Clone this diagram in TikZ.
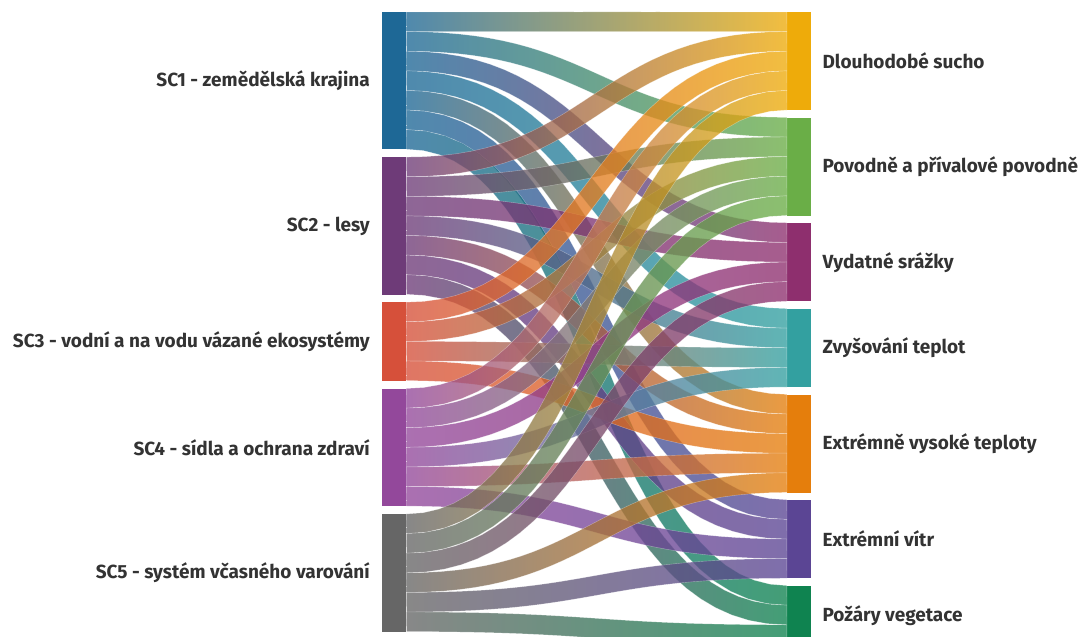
\documentclass[tikz,border=0pt]{standalone}
\usepackage{fontspec}
\setmainfont{Fira Sans}
\usepackage{tikz}
\usepackage{xcolor}
\usetikzlibrary{
    calc,
    positioning
}
\definecolor{csca}{HTML}{1E6896}
\definecolor{cscb}{HTML}{6E3B78}
\definecolor{cscc}{HTML}{D6503A}
\definecolor{cscd}{HTML}{93489B}
\definecolor{csce}{HTML}{666666}
\definecolor{csucho}{HTML}{EEAB0A}
\definecolor{cpovod}{HTML}{6AAE47}
\definecolor{csrazky}{HTML}{8E2F6E}
\definecolor{cteplo}{HTML}{33A0A0}
\definecolor{cextr}{HTML}{E57E0C}
\definecolor{cvitr}{HTML}{5B4594}
\definecolor{cpozar}{HTML}{0F8350}
\definecolor{ctext}{HTML}{333333}
\newcommand{\unitw}{19.6}
\tikzset{
    flowbar/.style={inner sep=0pt, draw=none, minimum width=24pt, minimum height={#1*19.6pt}},
    srclabel/.style={inner sep=0pt, text=ctext, font=\bfseries\fontsize{19}{22}\selectfont},
    tgtlabel/.style={inner sep=0pt, text=ctext, font=\bfseries\fontsize{19}{22}\selectfont},
    flowband/.style={fill opacity=0.78, draw=white, draw opacity=0.4, line width=0.4pt},
    declare function={
        bx(\q)=1.5*\q*(1-\q)+\q*\q*\q;
        by(\q)=\q*\q*(3-2*\q);
        ba(\q)=1.5-3*\q+3*\q*\q;
        bb(\q,\w)=6*\w*\q*(1-\q);
        bn(\q,\w)=sqrt(ba(\q)*ba(\q)+bb(\q,\w)*bb(\q,\w));
    }
}
% band of constant thickness from slot #2 of source #1 to slot #4 of target #3
\newcommand{\sankeylink}[6]{
    \shadedraw[flowband, left color=#5, right color=#6]
    let \p1=($(#1.north east)+(0,#2*\unitw+9.8)$),
        \p2=($(#3.north west)+(0,#4*\unitw+9.8)$),
        \n1={(\x2-\x1)/1pt}, \n2={(\y2-\y1)/(\x2-\x1)},
        \n3={\x1/1pt}, \n4={\y1/1pt}, \n5={(\y2-\y1)/1pt} in
    plot[variable=\t, domain=0:1, samples=31]
        ({(\n3+\n1*bx(\t)-9.8*bb(\t,\n2)/bn(\t,\n2))*1pt},
         {(\n4+\n5*by(\t)+9.8*ba(\t)/bn(\t,\n2))*1pt})
    -- plot[variable=\t, domain=1:0, samples=31]
        ({(\n3+\n1*bx(\t)+9.8*bb(\t,\n2)/bn(\t,\n2))*1pt},
         {(\n4+\n5*by(\t)-9.8*ba(\t)/bn(\t,\n2))*1pt})
    -- cycle;
}

\begin{document}
\begin{tikzpicture}[x=1pt, y=-1pt]
    \useasboundingbox (0,0) rectangle (1082,637);

    % sources
    \node[flowbar=7, fill=csca, anchor=north west] (sca) at (382,12) {};
    \node[flowbar=7, fill=cscb, below=7.5pt of sca] (scb) {};
    \node[flowbar=4, fill=cscc, below=7.5pt of scb] (scc) {};
    \node[flowbar=6, fill=cscd, below=7.5pt of scc] (scd) {};
    \node[flowbar=6, fill=csce, below=7.5pt of scd] (sce) {};

    % targets
    \node[flowbar=5, fill=csucho, anchor=north west] (sucho) at (787,12) {};
    \node[flowbar=5, fill=cpovod, below=7pt of sucho] (povod) {};
    \node[flowbar=4, fill=csrazky, below=7pt of povod] (srazky) {};
    \node[flowbar=4, fill=cteplo, below=7pt of srazky] (teplo) {};
    \node[flowbar=5, fill=cextr, below=7pt of teplo] (extr) {};
    \node[flowbar=4, fill=cvitr, below=7pt of extr] (vitr) {};
    \node[flowbar=3, fill=cpozar, below=7pt of vitr] (pozar) {};

    % links
    \sankeylink{sca}{0}{sucho}{0}{csca}{csucho}
    \sankeylink{sca}{1}{povod}{0}{csca}{cpovod}
    \sankeylink{sca}{2}{srazky}{0}{csca}{csrazky}
    \sankeylink{sca}{3}{teplo}{0}{csca}{cteplo}
    \sankeylink{sca}{4}{extr}{0}{csca}{cextr}
    \sankeylink{sca}{5}{vitr}{0}{csca}{cvitr}
    \sankeylink{sca}{6}{pozar}{0}{csca}{cpozar}

    \sankeylink{scb}{0}{sucho}{1}{cscb}{csucho}
    \sankeylink{scb}{1}{povod}{1}{cscb}{cpovod}
    \sankeylink{scb}{2}{srazky}{1}{cscb}{csrazky}
    \sankeylink{scb}{3}{teplo}{1}{cscb}{cteplo}
    \sankeylink{scb}{4}{extr}{1}{cscb}{cextr}
    \sankeylink{scb}{5}{vitr}{1}{cscb}{cvitr}
    \sankeylink{scb}{6}{pozar}{1}{cscb}{cpozar}

    \sankeylink{scc}{0}{sucho}{2}{cscc}{csucho}
    \sankeylink{scc}{1}{povod}{2}{cscc}{cpovod}
    \sankeylink{scc}{2}{teplo}{2}{cscc}{cteplo}
    \sankeylink{scc}{3}{extr}{2}{cscc}{cextr}

    \sankeylink{scd}{0}{sucho}{3}{cscd}{csucho}
    \sankeylink{scd}{1}{povod}{3}{cscd}{cpovod}
    \sankeylink{scd}{2}{srazky}{2}{cscd}{csrazky}
    \sankeylink{scd}{3}{teplo}{3}{cscd}{cteplo}
    \sankeylink{scd}{4}{extr}{3}{cscd}{cextr}
    \sankeylink{scd}{5}{vitr}{2}{cscd}{cvitr}

    \sankeylink{sce}{0}{sucho}{4}{csce}{csucho}
    \sankeylink{sce}{1}{povod}{4}{csce}{cpovod}
    \sankeylink{sce}{2}{srazky}{3}{csce}{csrazky}
    \sankeylink{sce}{3}{extr}{4}{csce}{cextr}
    \sankeylink{sce}{4}{vitr}{3}{csce}{cvitr}
    \sankeylink{sce}{5}{pozar}{2}{csce}{cpozar}

    % labels
    \node[srclabel, left=12pt of sca] (scalab) {SC1 - zemědělská krajina};
    \node[srclabel, left=12pt of scb] (scblab) {SC2 - lesy};
    \node[srclabel, left=12pt of scc] (scclab) {SC3 - vodní a na vodu vázané ekosystémy};
    \node[srclabel, left=12pt of scd] (scdlab) {SC4 - sídla a ochrana zdraví};
    \node[srclabel, left=12pt of sce] (scelab) {SC5 - systém včasného varování};

    \node[tgtlabel, right=11pt of sucho] (sucholab) {Dlouhodobé sucho};
    \node[tgtlabel, right=11pt of povod] (povodlab) {Povodně a přívalové povodně};
    \node[tgtlabel, right=11pt of srazky] (srazkylab) {Vydatné srážky};
    \node[tgtlabel, right=11pt of teplo] (teplolab) {Zvyšování teplot};
    \node[tgtlabel, right=11pt of extr] (extrlab) {Extrémně vysoké teploty};
    \node[tgtlabel, right=11pt of vitr] (vitrlab) {Extrémní vítr};
    \node[tgtlabel, right=11pt of pozar] (pozarlab) {Požáry vegetace};
\end{tikzpicture}
\end{document}
